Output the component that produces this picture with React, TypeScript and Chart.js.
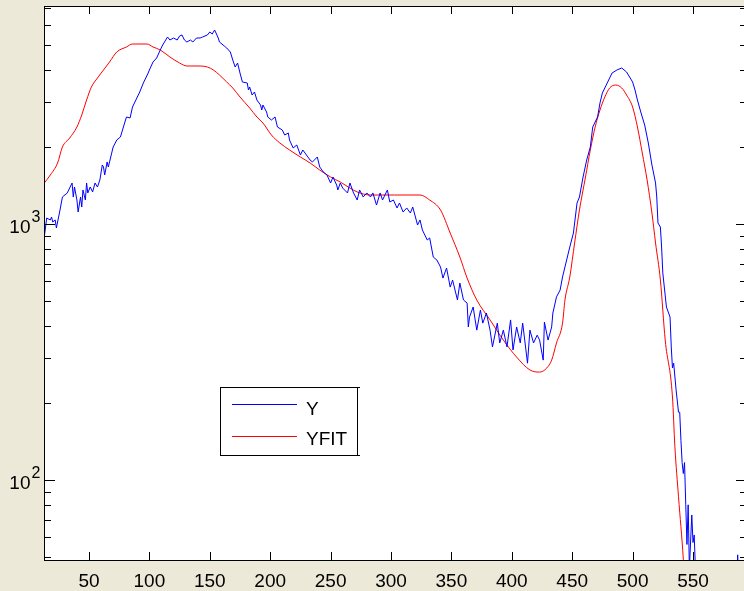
import { useEffect, useRef } from "react";
import { Chart, registerables } from "chart.js";

Chart.register(...registerables);

// ---- data ----
const blueX = [13,15,18,19,20,22,23,24,26,28,32,36,37,38,40,41,43,44,45,47,48,49,51,53,55,57,59,61,62,63,65,66,67,70,73,76,79,81,84,86,90,92,95,99,100,103,106,109,111,115,117,120,123,125,127,129,131,134,136,139,142,144,148,150,152,154,157,158,162,164,167,169,171,173,175,177,181,182,183,185,187,189,192,193,194,197,198,201,204,206,210,212,215,216,219,222,225,227,230,233,235,239,241,244,247,250,252,255,256,258,260,264,266,269,272,274,277,280,283,285,288,291,293,297,299,302,305,307,310,313,316,318,322,324,326,330,332,335,338,341,343,346,349,351,355,357,360,363,364,365,368,371,374,376,379,382,384,388,390,393,396,399,401,404,407,409,413,415,418,421,423,426,427,430,433,434,437,440,442,446,448,451,454,456,459,462,465,467,471,473,475,479,483,487,491,495,500,502,504,507,510,513,516,519,520,521,523,524,525,528,531,532,533,534,536,538,539,540,541,542,543,544,545,546,547,549,550,551,552,553,586,587,588];
const blueY = [890,1055,1037,1065,1018,1037,965,1018,1134,1275,1322,1446,1275,1395,1241,1114,1275,1165,1358,1241,1446,1322,1395,1334,1446,1395,1486,1700,1670,1554,1747,1670,1747,1999,2129,2187,2436,2618,2595,2864,3134,3278,3555,3889,3995,4294,4451,4783,5003,5376,5233,5328,5233,5425,5474,5233,5140,5233,5140,5328,5328,5376,5474,5624,5523,5726,5328,5140,4958,4870,4698,4372,4105,4255,3889,3587,3555,3338,3429,3191,3278,3050,2916,2788,2916,2738,2618,2548,2618,2393,2329,2227,2267,2129,1981,2035,1860,1946,1860,1778,1747,1827,1670,1596,1554,1446,1526,1420,1358,1446,1382,1322,1446,1322,1241,1358,1275,1322,1275,1322,1186,1322,1241,1358,1219,1241,1155,1208,1114,1155,1104,1165,991,1037,947,866,882,743,723,679,615,673,567,604,505,588,505,491,396,433,474,385,461,410,449,385,331,410,343,385,331,422,322,396,343,410,286,385,343,368,352,294,414,352,396,449,519,552,621,743,813,922,1208,1275,1526,1778,1999,2393,2618,2969,3249,3555,3889,3995,4068,3924,3587,3338,3050,2714,2436,2072,1700,1446,1275,1009,973,813,644,474,433,331,274,286,225,184,184,143,117,106,117,80,56,80,45,73,57,61,45,30,30,51,30];

const redX = [13,18,24,28,34,40,44,48,52,57,62,67,73,81,86,98,103,109,117,125,131,142,148,153,158,164,169,175,183,189,194,201,208,216,225,233,241,250,258,266,272,283,303,324,332,341,349,357,363,371,382,393,404,415,423,429,433,437,442,444,448,452,456,461,465,469,473,477,481,486,491,495,500,504,508,512,516,519,523,527,533,535,538,542,544];
const redY = [1446,1554,1731,1999,2167,2393,2666,3050,3429,3718,3995,4294,4698,4914,5048,5048,4914,4783,4491,4255,4142,4142,4105,3995,3820,3587,3398,3134,2839,2618,2480,2227,2072,1946,1827,1731,1625,1526,1459,1382,1334,1298,1298,1298,1241,1134,922,743,615,505,422,352,302,269,264,274,294,343,410,505,621,843,1134,1526,1946,2393,2788,3134,3398,3491,3398,3191,2864,2393,1894,1486,1104,843,604,352,211,135,86,49,33];

const seriesNames = ["Y", "YFIT"];
const xTickValues = [50, 100, 150, 200, 250, 300, 350, 400, 450, 500, 550];
const yMajorTicks = [100, 1000];
const yMajorExponents = ["2", "3"];
const yMinorTicks = [50, 60, 70, 80, 90, 200, 300, 400, 500, 600, 700, 800, 900, 2000, 3000, 4000, 5000, 6000, 7000];

const X_MIN = 12.75;
const X_MAX = 594.7;
const Y_MIN = 48.7;
const Y_MAX = 7105;

const FONT = "'Liberation Sans', Arial, sans-serif";
const BG = "#ECE9D8";

const matlabPlugin = {
  id: "matlabDecor",
  beforeDraw(chart: any) {
    const { ctx, chartArea } = chart;
    ctx.save();
    ctx.fillStyle = BG;
    ctx.fillRect(0, 0, chart.width, chart.height);
    ctx.fillStyle = "#ffffff";
    ctx.fillRect(chartArea.left, chartArea.top, chartArea.right - chartArea.left, chartArea.bottom - chartArea.top);
    ctx.restore();
  },
  afterDraw(chart: any) {
    const { ctx, chartArea } = chart;
    const xs = chart.scales.x;
    const ys = chart.scales.y;
    const L = chartArea.left, R = chartArea.right, T = chartArea.top, B = chartArea.bottom;
    ctx.save();
    ctx.strokeStyle = "#000000";
    ctx.lineWidth = 1;
    // frame
    ctx.strokeRect(L + 0.5, T + 0.5, R - L - 1, B - T);
    // x ticks
    ctx.beginPath();
    xTickValues.forEach((v) => {
      const px = Math.round(xs.getPixelForValue(v)) + 0.5;
      ctx.moveTo(px, B);
      ctx.lineTo(px, B - 8);
      ctx.moveTo(px, T);
      ctx.lineTo(px, T + 8);
    });
    // y major ticks
    yMajorTicks.forEach((v) => {
      const py = Math.round(ys.getPixelForValue(v)) + 0.5;
      ctx.moveTo(L, py);
      ctx.lineTo(L + 11, py);
      ctx.moveTo(R, py);
      ctx.lineTo(R - 11, py);
    });
    yMinorTicks.forEach((v) => {
      const py = Math.round(ys.getPixelForValue(v)) + 0.5;
      ctx.moveTo(L, py);
      ctx.lineTo(L + 7, py);
      ctx.moveTo(R, py);
      ctx.lineTo(R - 7, py);
    });
    ctx.stroke();

    // tick labels
    ctx.fillStyle = "#000000";
    ctx.font = `19px ${FONT}`;
    ctx.textAlign = "center";
    ctx.textBaseline = "alphabetic";
    xTickValues.forEach((v) => {
      ctx.fillText(String(v), xs.getPixelForValue(v), 587);
    });
    yMajorTicks.forEach((v, i) => {
      const py = ys.getPixelForValue(v);
      ctx.font = `19px ${FONT}`;
      ctx.textAlign = "right";
      ctx.fillText("10", 30.5, py + 8.5);
      ctx.font = `16px ${FONT}`;
      ctx.textAlign = "left";
      ctx.fillText(yMajorExponents[i], 31.5, py - 2.5);
    });

    // legend
    const lx = 220, ly = 387, lw = 137, lh = 68;
    ctx.fillStyle = "#ffffff";
    ctx.fillRect(lx, ly, lw, lh);
    ctx.strokeStyle = "#000000";
    ctx.strokeRect(lx + 0.5, ly + 0.5, lw, lh);
    ctx.beginPath();
    ctx.moveTo(lx + lw + 0.5, ly + 0.5);
    ctx.lineTo(lx + lw + 3, ly + 0.5);
    ctx.moveTo(lx + lw + 0.5, ly + lh + 0.5);
    ctx.lineTo(lx + lw + 3, ly + lh + 0.5);
    ctx.stroke();
    const colors = chart.data.datasets.map((d: any) => d.borderColor);
    const rows = [404.5, 436.5];
    const bases = [415, 445];
    rows.forEach((ry, i) => {
      ctx.strokeStyle = colors[i];
      ctx.beginPath();
      ctx.moveTo(232, ry);
      ctx.lineTo(297, ry);
      ctx.stroke();
      ctx.fillStyle = "#000000";
      ctx.font = `19px ${FONT}`;
      ctx.textAlign = "left";
      ctx.fillText(seriesNames[i], 306, bases[i]);
    });
    ctx.restore();
  },
};

export default function App() {
  const ref = useRef<HTMLCanvasElement | null>(null);
  useEffect(() => {
    document.documentElement.style.overflow = "hidden";
    document.body.style.margin = "0";
    document.body.style.overflow = "hidden";
    document.body.style.background = BG;
    if (!ref.current) return;
    const chart = new Chart(ref.current, {
      type: "line",
      data: {
        datasets: [
          {
            label: seriesNames[0],
            data: blueX.map((x, i) => ({ x, y: blueY[i] })),
            borderColor: "#0000ff",
            borderWidth: 1,
            pointRadius: 0,
            tension: 0,
          },
          {
            label: seriesNames[1],
            data: redX.map((x, i) => ({ x, y: redY[i] })),
            borderColor: "#ff0000",
            borderWidth: 1,
            pointRadius: 0,
            cubicInterpolationMode: "monotone",
          },
        ],
      },
      options: {
        responsive: false,
        animation: false,
        devicePixelRatio: 1,
        layout: { padding: { left: 44, top: 6, right: 1, bottom: 31 } },
        plugins: { legend: { display: false }, tooltip: { enabled: false } },
        scales: {
          x: { type: "linear", min: X_MIN, max: X_MAX, display: false },
          y: { type: "logarithmic", min: Y_MIN, max: Y_MAX, display: false },
        },
      },
      plugins: [matlabPlugin],
    } as any);
    return () => chart.destroy();
  }, []);
  return (
    <div style={{ width: 748, height: 591, overflow: "hidden" }}>
      <canvas ref={ref} width={748} height={591} style={{ display: "block", width: 748, height: 591 }} />
    </div>
  );
}
